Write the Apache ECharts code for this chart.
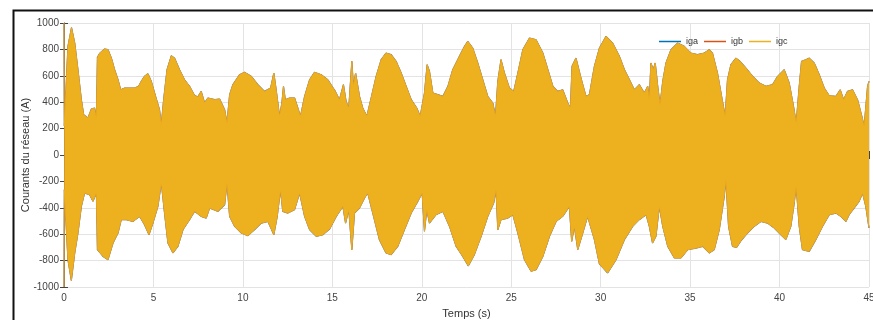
<!DOCTYPE html>
<html>
<head>
<meta charset="utf-8">
<script src="https://cdn.jsdelivr.net/npm/echarts@6/dist/echarts.min.js"></script>
<style>
  html, body { margin: 0; padding: 0; background: #fff; }
  #chart { width: 873px; height: 320px; }
</style>
</head>
<body>
<div id="chart"></div>
<script>
// enveloppe haute (instants en s, valeurs en A)
var topTime = [0, 0.02, 0.22, 0.42, 0.6, 0.78, 0.97, 1.1, 1.34, 1.53, 1.71, 1.81, 1.87, 2.0, 2.27, 2.46, 2.65, 2.83, 3.02, 3.17, 3.39, 3.67, 3.95, 4.17, 4.32, 4.5, 4.69, 4.88, 5.12, 5.34, 5.44, 5.57, 5.76, 6.0, 6.18, 6.46, 6.74, 7.02, 7.3, 7.48, 7.67, 7.86, 8.04, 8.42, 8.7, 8.98, 9.11, 9.26, 9.44, 9.81, 10.09, 10.47, 10.84, 11.21, 11.55, 11.73, 11.86, 12.05, 12.18, 12.27, 12.37, 12.61, 12.89, 13.04, 13.22, 13.45, 13.73, 14.0, 14.38, 14.75, 15.03, 15.12, 15.4, 15.62, 15.77, 15.92, 16.09, 16.18, 16.3, 16.52, 16.7, 16.93, 17.17, 17.45, 17.73, 18.0, 18.29, 18.57, 18.85, 19.13, 19.41, 19.72, 19.91, 20.15, 20.3, 20.43, 20.62, 20.9, 21.18, 21.46, 21.73, 22.1, 22.39, 22.57, 22.85, 23.13, 23.41, 23.69, 23.97, 24.12, 24.25, 24.43, 24.62, 24.9, 25.14, 25.37, 25.65, 26.02, 26.39, 26.77, 27.05, 27.33, 27.6, 27.88, 28.16, 28.31, 28.4, 28.62, 28.9, 29.18, 29.37, 29.65, 29.93, 30.3, 30.67, 31.05, 31.33, 31.61, 31.88, 32.16, 32.44, 32.63, 32.72, 32.81, 32.94, 33.05, 33.19, 33.32, 33.47, 33.65, 33.93, 34.3, 34.68, 35.04, 35.41, 35.79, 36.07, 36.25, 36.53, 36.81, 36.96, 37.09, 37.28, 37.56, 37.75, 38.12, 38.5, 38.87, 39.24, 39.61, 39.89, 40.26, 40.54, 40.78, 40.93, 41.1, 41.23, 41.47, 41.66, 41.94, 42.22, 42.5, 42.78, 43.15, 43.39, 43.58, 43.8, 44.08, 44.36, 44.6, 44.73, 44.92, 45.0];
var topVal = [1000, 220, 823, 965, 848, 646, 419, 305, 280, 348, 356, 280, 740, 772, 803, 798, 734, 646, 570, 494, 507, 507, 507, 520, 558, 596, 616, 558, 444, 343, 230, 419, 646, 752, 734, 646, 570, 520, 450, 440, 482, 394, 432, 419, 424, 343, 242, 457, 533, 608, 626, 596, 533, 482, 507, 621, 494, 293, 394, 520, 419, 432, 432, 369, 293, 444, 570, 626, 608, 570, 510, 494, 419, 533, 406, 356, 709, 520, 621, 444, 356, 293, 432, 596, 722, 772, 760, 709, 621, 520, 419, 356, 293, 469, 684, 634, 469, 457, 444, 520, 646, 747, 823, 861, 810, 697, 570, 444, 394, 293, 558, 722, 621, 507, 482, 621, 798, 886, 873, 772, 646, 520, 482, 494, 394, 356, 672, 734, 583, 444, 457, 672, 810, 899, 848, 747, 646, 570, 494, 533, 469, 520, 419, 697, 646, 697, 520, 381, 558, 697, 798, 848, 823, 772, 760, 772, 798, 772, 621, 406, 293, 570, 684, 734, 715, 659, 596, 545, 520, 533, 596, 646, 545, 369, 242, 520, 709, 722, 734, 697, 608, 507, 449, 444, 494, 419, 482, 494, 419, 293, 217, 520, 558];

// enveloppe basse
var botTime = [0, 0.02, 0.22, 0.41, 0.6, 0.78, 0.97, 1.15, 1.43, 1.62, 1.81, 1.87, 2.18, 2.46, 2.74, 3.02, 3.2, 3.48, 3.85, 4.23, 4.5, 4.75, 4.97, 5.25, 5.44, 5.62, 5.81, 6.09, 6.37, 6.65, 7.02, 7.3, 7.67, 7.95, 8.14, 8.61, 8.98, 9.11, 9.26, 9.54, 9.91, 10.28, 10.65, 11.03, 11.4, 11.73, 11.92, 12.1, 12.23, 12.51, 12.89, 13.17, 13.45, 13.73, 14.1, 14.47, 14.85, 15.22, 15.59, 15.74, 15.92, 16.09, 16.24, 16.52, 16.8, 16.98, 17.26, 17.63, 18.0, 18.29, 18.66, 19.03, 19.41, 19.78, 20.02, 20.15, 20.28, 20.43, 20.8, 21.18, 21.55, 21.92, 22.29, 22.6, 22.94, 23.32, 23.69, 24.02, 24.15, 24.25, 24.43, 24.81, 25.09, 25.37, 25.74, 26.11, 26.39, 26.77, 27.14, 27.51, 27.88, 28.25, 28.38, 28.53, 28.72, 29.0, 29.27, 29.65, 29.93, 30.39, 30.86, 31.33, 31.79, 32.16, 32.54, 32.72, 32.9, 33.09, 33.28, 33.47, 33.75, 34.12, 34.49, 34.87, 35.33, 35.7, 36.07, 36.35, 36.63, 36.91, 37.0, 37.15, 37.37, 37.6, 37.84, 38.21, 38.58, 38.96, 39.33, 39.7, 40.07, 40.35, 40.63, 40.82, 40.93, 41.1, 41.28, 41.66, 42.03, 42.4, 42.78, 43.15, 43.43, 43.71, 43.89, 44.17, 44.45, 44.64, 44.82, 45.0];
var botVal = [-1000, -263, -793, -950, -742, -591, -389, -288, -301, -351, -288, -717, -768, -793, -667, -591, -490, -490, -503, -465, -528, -604, -516, -389, -212, -440, -667, -742, -692, -566, -490, -427, -465, -478, -402, -427, -377, -212, -465, -541, -591, -611, -566, -516, -503, -604, -465, -263, -427, -440, -414, -288, -465, -566, -616, -604, -560, -465, -389, -516, -414, -717, -440, -402, -326, -288, -440, -641, -742, -755, -692, -566, -440, -351, -288, -578, -414, -516, -452, -427, -541, -692, -768, -840, -755, -616, -465, -364, -263, -566, -490, -478, -452, -591, -793, -881, -869, -768, -616, -503, -465, -389, -654, -541, -717, -591, -465, -641, -825, -894, -793, -641, -541, -490, -452, -541, -667, -616, -389, -541, -692, -780, -780, -717, -705, -692, -742, -717, -566, -313, -187, -541, -692, -700, -650, -591, -541, -503, -516, -553, -604, -641, -541, -364, -237, -541, -717, -730, -641, -541, -452, -440, -465, -503, -452, -402, -351, -288, -389, -553];

var phases = ['iga', 'igb', 'igc'];
var colors = ['#0072BD', '#D95319', '#EDB120'];
var xTicks = [0, 45, 5];
var yTicks = [-1000, 1000, 200];

function pairs(t, v) {
    var out = [];
    for (var i = 0; i < t.length; i++) out.push([t[i], v[i]]);
    return out;
}
var topData = pairs(topTime, topVal);
var botData = pairs(botTime, botVal);

var series = [];
phases.forEach(function (name, k) {
    var last = k === phases.length - 1;
    [topData, botData].forEach(function (d) {
        series.push({
            name: name,
            type: 'line',
            data: d,
            showSymbol: false,
            silent: true,
            color: colors[k],
            lineStyle: { color: colors[k], width: last ? 0.8 : (k === 0 ? 1.2 : 1.0), opacity: last ? 1 : 0.7 },
            areaStyle: { color: colors[k], opacity: 1 },
            z: 2 + k
        });
    });
});

var axisCol = '#7a7a7a';
var font = 'Liberation Sans, Arial, sans-serif';
function plain(v) { return String(v); }

var myChart = echarts.init(document.getElementById('chart'), null, { renderer: 'canvas' });
var option = {
    animation: false,
    backgroundColor: '#fff',
    color: colors,
    grid: { left: 64, right: 4, top: 23, bottom: 33, outerBoundsMode: 'none', containLabel: false },
    legend: {
        data: phases,
        left: 654, top: 32,
        icon: 'rect',
        itemWidth: 22, itemHeight: 1.5,
        itemGap: 6,
        textStyle: { fontSize: 9, color: '#333', fontFamily: font }
    },
    xAxis: [{
        type: 'value', min: xTicks[0], max: xTicks[1], interval: xTicks[2],
        name: 'Temps (s)', nameLocation: 'middle', nameGap: 21, nameMoveOverlap: false,
        nameTextStyle: { fontSize: 11, color: '#333', fontFamily: font },
        axisLine: { lineStyle: { color: axisCol } },
        axisTick: { inside: true, length: 4, lineStyle: { color: '#444' } },
        axisLabel: { fontSize: 10, color: '#444', margin: 6, fontFamily: font, formatter: plain },
        splitLine: { lineStyle: { color: '#e3e3e3' } }
    }, {
        type: 'value', position: 'top', min: xTicks[0], max: xTicks[1], interval: xTicks[2],
        axisLine: { lineStyle: { color: axisCol } },
        axisTick: { inside: true, length: 4, lineStyle: { color: '#444' } },
        axisLabel: { show: false }, splitLine: { show: false }
    }],
    yAxis: [{
        type: 'value', min: yTicks[0], max: yTicks[1], interval: yTicks[2],
        name: 'Courants du réseau (A)', nameLocation: 'middle', nameGap: 33, nameMoveOverlap: false,
        nameTextStyle: { fontSize: 11, color: '#333', fontFamily: font },
        axisLine: { show: true, lineStyle: { color: axisCol } },
        axisTick: { show: true, inside: true, length: 4, lineStyle: { color: '#444' } },
        axisLabel: { fontSize: 10, color: '#444', margin: 5, fontFamily: font, formatter: plain },
        splitLine: { lineStyle: { color: '#e3e3e3' } }
    }, {
        type: 'value', position: 'right', min: yTicks[0], max: yTicks[1], interval: yTicks[2],
        axisLine: { show: true, lineStyle: { color: axisCol } },
        axisTick: { show: true, inside: true, length: 4, lineStyle: { color: '#444' } },
        axisLabel: { show: false }, splitLine: { show: false }
    }],
    graphic: [{
        type: 'rect', left: 11, top: 8, silent: true,
        shape: { width: 900, height: 400 },
        style: { fill: 'none', stroke: '#111', lineWidth: 2 }
    }],
    series: series
};
myChart.setOption(option);
</script>
</body>
</html>
